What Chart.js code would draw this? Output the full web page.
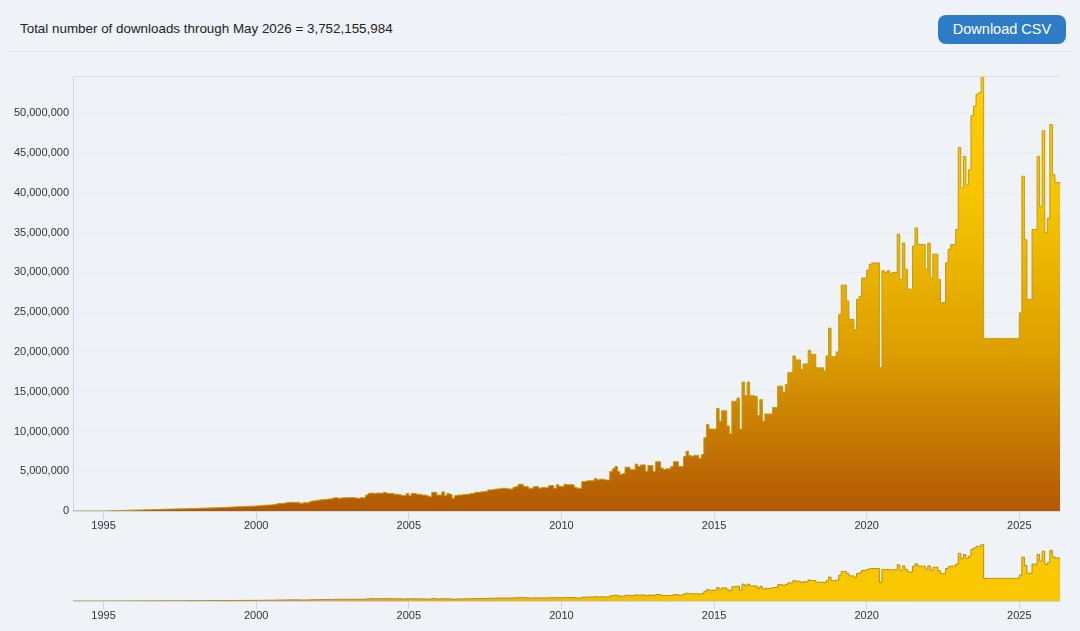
<!DOCTYPE html>
<html>
<head>
<meta charset="utf-8">
<script src="https://cdn.jsdelivr.net/npm/chart.js@4.4.1/dist/chart.umd.min.js"></script>
<style>
  html, body { margin: 0; padding: 0; background: #eff3f7; width: 1080px; height: 631px; overflow: hidden;
    font-family: "Liberation Sans", Arial, sans-serif; }
  #total { position: absolute; left: 20px; top: 20px; font-size: 13.4px; line-height: 18px; color: #222; }
  #csv { position: absolute; left: 938px; top: 15px; width: 128px; height: 29px; border-radius: 8px;
    background: #2f7cc6; color: #fff; font-size: 14.5px; line-height: 29px; text-align: center; }
  #rule { position: absolute; left: 8px; width: 1064px; top: 51px; height: 1px; background: #dde3ea; }
  #main { position: absolute; left: 0; top: 60px; }
  #nav { position: absolute; left: 0; top: 530px; }
</style>
</head>
<body>
<div id="total">Total number of downloads through May 2026 = 3,752,155,984</div>
<div id="csv">Download CSV</div>
<div id="rule"></div>
<canvas id="main" width="1080" height="480"></canvas>
<canvas id="nav" width="1080" height="101"></canvas>
<script>
// monthly downloads, millions (Jan..Dec)
const y1994 = [0.002, 0.002, 0.003, 0.003, 0.004, 0.004, 0.005, 0.005, 0.006, 0.007, 0.008, 0.009];
const y1995 = [0.01, 0.015, 0.02, 0.03, 0.04, 0.05, 0.06, 0.07, 0.08, 0.09, 0.1, 0.11];
const y1996 = [0.12, 0.13, 0.13, 0.14, 0.15, 0.16, 0.17, 0.18, 0.19, 0.2, 0.21, 0.22];
const y1997 = [0.23, 0.24, 0.24, 0.25, 0.26, 0.27, 0.27, 0.28, 0.29, 0.3, 0.31, 0.32];
const y1998 = [0.33, 0.34, 0.35, 0.36, 0.37, 0.38, 0.39, 0.4, 0.41, 0.43, 0.44, 0.45];
const y1999 = [0.46, 0.48, 0.49, 0.51, 0.52, 0.54, 0.55, 0.57, 0.58, 0.6, 0.61, 0.62];
const y2000 = [0.64, 0.66, 0.68, 0.72, 0.75, 0.74, 0.78, 0.8, 0.9, 0.96, 0.94, 1.0];
const y2001 = [1.05, 1.09, 1.1, 1.08, 1.1, 0.97, 1.0, 1.05, 1.03, 1.2, 1.26, 1.28];
const y2002 = [1.36, 1.4, 1.42, 1.45, 1.5, 1.52, 1.62, 1.68, 1.6, 1.62, 1.66, 1.68];
const y2003 = [1.66, 1.7, 1.68, 1.62, 1.6, 1.68, 1.66, 2.0, 2.22, 2.25, 2.2, 2.24];
const y2004 = [2.25, 2.22, 2.35, 2.24, 2.2, 2.22, 2.12, 2.1, 2.05, 1.95, 1.93, 2.2];
const y2005 = [1.93, 2.2, 2.2, 2.1, 2.1, 2.0, 2.0, 1.9, 1.8, 2.35, 2.35, 2.0];
const y2006 = [2.0, 2.4, 1.93, 2.2, 2.1, 1.6, 1.93, 2.0, 2.0, 2.05, 2.1, 2.1];
const y2007 = [2.2, 2.2, 2.35, 2.35, 2.4, 2.44, 2.44, 2.65, 2.65, 2.7, 2.77, 2.77];
const y2008 = [2.86, 2.86, 2.86, 2.77, 2.77, 3.0, 3.07, 3.36, 3.36, 3.07, 3.07, 2.86];
const y2009 = [2.86, 3.07, 3.07, 2.86, 2.94, 2.94, 2.94, 3.2, 3.2, 2.86, 3.3, 3.1];
const y2010 = [3.07, 3.36, 3.3, 3.3, 3.3, 3.0, 2.86, 2.86, 3.7, 3.7, 3.8, 3.8];
const y2011 = [3.8, 4.1, 3.9, 4.0, 4.0, 3.9, 3.9, 4.96, 5.3, 5.6, 4.96, 4.6];
const y2012 = [4.7, 5.5, 5.5, 5.2, 5.2, 5.9, 5.6, 5.8, 5.8, 5.0, 5.7, 5.7];
const y2013 = [4.96, 6.2, 6.2, 5.4, 5.2, 5.3, 5.3, 5.6, 6.2, 6.2, 5.6, 5.6];
const y2014 = [6.85, 7.5, 7.0, 6.85, 7.0, 7.0, 6.6, 7.1, 9.2, 10.9, 10.3, 10.3];
const y2015 = [10.3, 12.9, 11.3, 12.6, 12.6, 10.7, 9.7, 13.8, 13.8, 14.2, 10.3, 16.2];
const y2016 = [14.5, 16.2, 14.5, 14.5, 14.4, 12.0, 14.0, 11.3, 12.2, 12.2, 12.2, 13.0];
const y2017 = [13.0, 15.7, 15.7, 14.9, 15.9, 17.4, 17.4, 19.5, 19.0, 19.0, 17.8, 18.5];
const y2018 = [18.5, 20.2, 19.7, 19.7, 18.0, 18.0, 18.0, 17.6, 19.5, 23.0, 19.4, 19.4];
const y2019 = [20.0, 24.7, 28.4, 28.4, 26.4, 24.1, 24.1, 22.8, 26.6, 27.0, 29.3, 29.3];
const y2020 = [30.3, 31.0, 31.2, 31.2, 31.2, 18.0, 30.2, 30.0, 30.2, 29.8, 30.0, 30.0];
const y2021 = [34.8, 29.1, 33.7, 30.4, 27.9, 27.9, 33.3, 35.6, 33.5, 33.5, 33.5, 30.4];
const y2022 = [33.7, 29.3, 32.3, 32.3, 29.1, 26.2, 26.2, 31.2, 32.9, 33.5, 33.5, 35.4];
const y2023 = [45.7, 40.6, 44.6, 41.0, 42.9, 49.7, 50.9, 52.4, 52.6, 54.7, 21.7, 21.7];
const y2024 = [21.7, 21.7, 21.7, 21.7, 21.7, 21.7, 21.7, 21.7, 21.7, 21.7, 21.7, 21.7];
const y2025 = [24.9, 42.1, 34.1, 26.6, 26.6, 35.4, 35.4, 44.6, 38.3, 47.8, 35.0, 36.8];
const y2026 = [48.6, 42.3, 41.3, 41.3, 41.0];

const years = [y1994, y1995, y1996, y1997, y1998, y1999, y2000, y2001, y2002, y2003, y2004,
  y2005, y2006, y2007, y2008, y2009, y2010, y2011, y2012, y2013, y2014, y2015, y2016,
  y2017, y2018, y2019, y2020, y2021, y2022, y2023, y2024, y2025, y2026];
const firstYear = 1994;
const yTicks = [0, 5e6, 10e6, 15e6, 20e6, 25e6, 30e6, 35e6, 40e6, 45e6, 50e6];
const xTickYears = [1995, 2000, 2005, 2010, 2015, 2020, 2025];

const months = [];
const downloads = [];
years.forEach((arr, yi) => {
  arr.forEach((v, m) => {
    months.push((firstYear + yi) + '-' + String(m + 1).padStart(2, '0'));
    downloads.push(Math.round(v * 1e6));
  });
});
const yMax = Math.max(...downloads);

Chart.defaults.font.family = '"Liberation Sans", Arial, sans-serif';
Chart.defaults.color = '#333';

const keepYearTicks = s => {
  s.ticks = s.ticks.filter(t => {
    const l = months[t.value];
    return l.endsWith('-01') && xTickYears.includes(+l.slice(0, 4));
  });
};
const fixedYTicks = s => { s.ticks = yTicks.map(v => ({ value: v })); };

const xAxis = height => ({
  type: 'category',
  grid: { drawOnChartArea: false, tickLength: 8, color: '#ccd6eb' },
  border: { color: '#ccd6eb' },
  ticks: {
    autoSkip: false, maxRotation: 0, padding: 0, font: { size: 11 },
    callback(v) { return this.getLabelForValue(v).slice(0, 4); }
  },
  afterBuildTicks: keepYearTicks,
  afterFit: s => { s.height = height; }
});

const topBorder = {
  id: 'topBorder',
  afterDraw(chart) {
    const a = chart.chartArea, c = chart.ctx;
    c.save();
    c.strokeStyle = '#d8dde5';
    c.lineWidth = 1;
    c.beginPath();
    c.moveTo(a.left, a.top + 0.5);
    c.lineTo(a.right, a.top + 0.5);
    c.stroke();
    c.restore();
  }
};

function mainFill(chart) {
  const a = chart.chartArea;
  if (!a) return '#e0a000';
  const g = chart.ctx.createLinearGradient(0, a.bottom, 0, a.top);
  g.addColorStop(0, '#b25804');
  g.addColorStop(0.37, '#dd9f00');
  g.addColorStop(0.7, '#f5c300');
  g.addColorStop(1, '#ffd000');
  return g;
}

function navFill(chart) {
  const a = chart.chartArea;
  if (!a) return '#f7c600';
  const g = chart.ctx.createLinearGradient(a.left, 0, a.right, 0);
  g.addColorStop(0, '#d2d2d2');
  g.addColorStop(0.2, '#e49a5a');
  g.addColorStop(0.4, '#f2b400');
  g.addColorStop(0.65, '#f8c600');
  g.addColorStop(1, '#fac800');
  return g;
}

new Chart(document.getElementById('main'), {
  type: 'line',
  data: {
    labels: months,
    datasets: [{
      data: downloads,
      stepped: true,
      fill: 'origin',
      borderColor: '#c39a10',
      borderWidth: 1,
      pointRadius: 0,
      backgroundColor: ctx => mainFill(ctx.chart)
    }]
  },
  options: {
    responsive: false,
    animation: false,
    events: [],
    layout: { padding: { top: 16, right: 20, left: 0, bottom: 0 } },
    plugins: { legend: { display: false }, tooltip: { enabled: false } },
    scales: {
      x: xAxis(29),
      y: {
        min: 0, max: yMax,
        grid: { color: '#dde2e9', drawTicks: false },
        border: { color: '#ccd6eb' },
        ticks: { padding: 4, font: { size: 11 }, callback: v => v.toLocaleString('en-US') },
        afterBuildTicks: fixedYTicks,
        afterFit: s => { s.width = 73; }
      },
      // same scale again, drawn above the area so the grid shows through the fill
      yOver: {
        position: 'left', min: 0, max: yMax, z: 1,
        grid: { color: 'rgba(255,255,255,0.32)', drawTicks: false },
        border: { display: false },
        ticks: { display: false },
        afterBuildTicks: fixedYTicks,
        afterFit: s => { s.width = 0; }
      }
    }
  },
  plugins: [topBorder]
});

new Chart(document.getElementById('nav'), {
  type: 'line',
  data: {
    labels: months,
    datasets: [{
      data: downloads,
      stepped: true,
      fill: 'origin',
      borderColor: '#b88f10',
      borderWidth: 1,
      pointRadius: 0,
      backgroundColor: ctx => navFill(ctx.chart)
    }]
  },
  options: {
    responsive: false,
    animation: false,
    events: [],
    layout: { padding: { top: 14, right: 20, left: 73, bottom: 0 } },
    plugins: { legend: { display: false }, tooltip: { enabled: false } },
    scales: {
      x: xAxis(30),
      y: { display: false, min: 0, max: yMax }
    }
  }
});
</script>
</body>
</html>
